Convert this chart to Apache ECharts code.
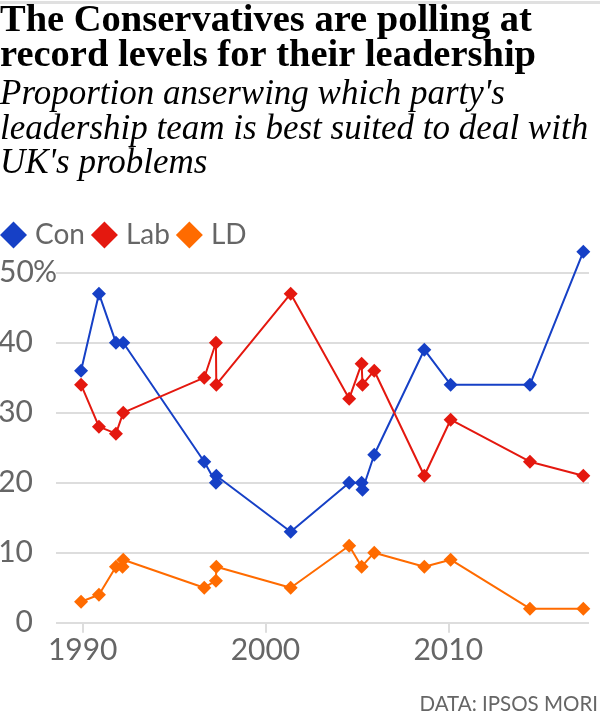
<!DOCTYPE html>
<html>
<head>
<meta charset="utf-8">
<script src="https://cdn.jsdelivr.net/npm/echarts@6/dist/echarts.min.js"></script>
<style>
html,body{margin:0;padding:0;background:#fff;}
#chart{width:600px;height:715px;}
</style>
</head>
<body>
<div id="chart"></div>
<script>
// ---- Data ----
var seriesNames = ['Con', 'Lab', 'LD'];
var conDates  = [1989.91, 1990.89, 1991.82, 1992.22, 1996.65, 1997.29, 1997.31, 2001.38, 2004.58, 2005.26, 2005.31, 2005.95, 2008.69, 2010.13, 2014.47, 2017.39];
var conValues = [36, 47, 40, 40, 23, 20, 21, 13, 20, 20, 19, 24, 39, 34, 34, 53];
var labDates  = [1989.91, 1990.89, 1991.82, 1992.22, 1996.65, 1997.29, 1997.31, 2001.38, 2004.58, 2005.26, 2005.31, 2005.95, 2008.69, 2010.13, 2014.47, 2017.39];
var labValues = [34, 28, 27, 30, 35, 40, 34, 47, 32, 37, 34, 36, 21, 29, 23, 21];
var ldDates   = [1989.91, 1990.89, 1991.82, 1992.18, 1992.22, 1996.65, 1997.29, 1997.31, 2001.38, 2004.58, 2005.26, 2005.95, 2008.69, 2010.13, 2014.47, 2017.39];
var ldValues  = [3, 4, 8, 8, 9, 5, 6, 8, 5, 11, 8, 10, 8, 9, 2, 2];
var xTickLabels = [1990, 2000, 2010];

var titleText = 'The Conservatives are polling at\nrecord levels for their leadership';
var subtitleText = "Proportion anserwing which party's\nleadership team is best suited to deal with\nUK's problems";
var sourceText = 'DATA: IPSOS MORI';

var colors = ['#1640c6', '#e4180f', '#ff6b00'];

function pairs(d, v) { return d.map(function (x, i) { return [x, v[i]]; }); }

var chart = echarts.init(document.getElementById('chart'), null, {renderer: 'canvas'});
var sansFont = 'Lato';

function mkSeries(name, d, v, c) {
  return {
    name: name, type: 'line', data: pairs(d, v),
    symbol: 'diamond', symbolSize: 14, clip: false,
    lineStyle: {color: c, width: 2}, itemStyle: {color: c},
    emphasis: {disabled: true}, animation: false
  };
}

chart.setOption({
  animation: false,
  color: colors,
  title: [
    {text: titleText, left: 0, top: 4, padding: 0,
     textStyle: {fontFamily: 'Liberation Serif', fontWeight: 'bold', fontSize: 38.5, lineHeight: 35, color: '#000'}},
    {text: subtitleText, left: 0, top: 78, padding: 0,
     textStyle: {fontFamily: 'Liberation Serif', fontStyle: 'italic', fontWeight: 'normal', fontSize: 35, lineHeight: 34.5, color: '#000'}},
    {text: sourceText, right: 2, bottom: 0, padding: 0,
     textStyle: {fontFamily: sansFont, fontWeight: 'normal', fontSize: 20.5, color: '#666'}}
  ],
  graphic: [{type: 'rect', shape: {x: 0, y: 1, width: 600, height: 3}, style: {fill: '#e0e0e0'}}],
  legend: {
    data: seriesNames, left: 0, top: 221, padding: 0,
    icon: 'diamond', itemWidth: 27, itemHeight: 27, itemGap: 6,
    textStyle: {fontFamily: sansFont, fontSize: 28, color: '#666', padding: [0, 0, 0, 3]}
  },
  grid: {left: 56, right: 11, top: 272.7, bottom: 92.3, containLabel: false, outerBoundsMode: 'none'},
  xAxis: {
    type: 'value', min: 1988.54, max: 2017.7,
    axisLine: {show: false},
    splitLine: {show: false},
    axisTick: {show: true, customValues: xTickLabels, length: 10, lineStyle: {color: '#dddddd', width: 2}},
    axisLabel: {customValues: xTickLabels, margin: 13, fontFamily: sansFont, fontSize: 30, color: '#666',
      formatter: function (v) { return String(v); }}
  },
  yAxis: {
    type: 'value', min: 0, max: 50, interval: 10,
    axisLine: {show: false}, axisTick: {show: false},
    splitLine: {show: true, lineStyle: {color: '#dddddd', width: 2}},
    axisLabel: {
      margin: 56, align: 'left', fontFamily: sansFont, fontSize: 30, color: '#666',
      formatter: function (v) { return '{a|' + v + '}' + (v === 50 ? '{b|%}' : ''); },
      rich: {
        a: {fontFamily: sansFont, fontSize: 30, color: '#666', width: 33, align: 'right'},
        b: {fontFamily: sansFont, fontSize: 30, color: '#666'}
      }
    }
  },
  series: [
    mkSeries('Con', conDates, conValues, colors[0]),
    mkSeries('Lab', labDates, labValues, colors[1]),
    mkSeries('LD', ldDates, ldValues, colors[2])
  ]
});
</script>
</body>
</html>
